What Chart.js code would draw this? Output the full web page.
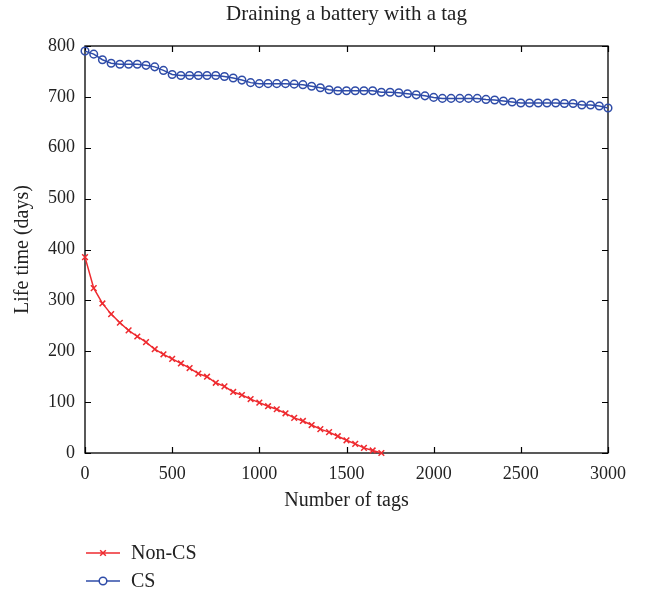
<!DOCTYPE html>
<html>
<head>
<meta charset="utf-8">
<script src="https://cdn.jsdelivr.net/npm/chart.js@4"></script>
<style>
  html, body { margin: 0; padding: 0; background: #fff; }
  #wrap { width: 649px; height: 592px; }
</style>
</head>
<body>
<div id="wrap"><canvas id="lifeChart" width="649" height="592"></canvas></div>
<script>
// number of tags (x) and life time in days (y)
const tagsNonCS = [0, 50, 100, 150, 200, 250, 300, 350, 400, 450, 500, 550, 600, 650, 700, 750, 800, 850,
    900, 950, 1000, 1050, 1100, 1150, 1200, 1250, 1300, 1350, 1400, 1450, 1500, 1550, 1600, 1650, 1700];
const lifeNonCS = [385, 324, 294, 273, 256, 241, 229, 218, 204, 194, 185, 176, 167, 156, 150, 138, 131, 120,
    114, 106, 99, 92, 86, 78, 69, 63, 55, 47, 41, 33, 25, 18, 10, 5, 0];

const tagsCS = [0, 50, 100, 150, 200, 250, 300, 350, 400, 450, 500, 550, 600, 650, 700, 750, 800, 850,
    900, 950, 1000, 1050, 1100, 1150, 1200, 1250, 1300, 1350, 1400, 1450, 1500, 1550, 1600, 1650, 1700,
    1750, 1800, 1850, 1900, 1950, 2000, 2050, 2100, 2150, 2200, 2250, 2300, 2350, 2400, 2450, 2500, 2550,
    2600, 2650, 2700, 2750, 2800, 2850, 2900, 2950, 3000];
const lifeCS = [790, 784, 773, 766, 764, 764, 764, 762, 759, 752, 744, 742, 742, 742, 742, 742, 740, 737,
    733, 728, 726, 726, 726, 726, 725, 724, 721, 718, 714, 712, 712, 712, 712, 712, 709,
    709, 708, 706, 704, 702, 699, 697, 697, 697, 697, 697, 695, 694, 692, 690, 688, 688,
    688, 688, 688, 687, 687, 684, 684, 682, 678];

const xTicks = [0, 500, 1000, 1500, 2000, 2500, 3000];
const yTicks = [0, 100, 200, 300, 400, 500, 600, 700, 800];

const serif = "'Liberation Serif', 'DejaVu Serif', serif";
const red = "#ee2a2f";
const blue = "#2f4ca8";

function toPoints(xs, ys) {
    return xs.map((x, i) => ({ x: x, y: ys[i] }));
}

// box with inward ticks, like the original plot
const boxPlugin = {
    id: "box",
    beforeDatasetsDraw(chart) {
        const ctx = chart.ctx;
        const a = chart.chartArea;
        const xs = chart.scales.x;
        const ys = chart.scales.y;
        ctx.save();
        ctx.strokeStyle = "#000";
        ctx.lineWidth = 1.2;
        ctx.beginPath();
        xTicks.forEach(v => {
            const px = Math.round(xs.getPixelForValue(v)) + 0.5;
            ctx.moveTo(px, a.bottom); ctx.lineTo(px, a.bottom - 6);
            ctx.moveTo(px, a.top); ctx.lineTo(px, a.top + 6);
        });
        yTicks.forEach(v => {
            const py = Math.round(ys.getPixelForValue(v)) + 0.5;
            ctx.moveTo(a.left, py); ctx.lineTo(a.left + 6, py);
            ctx.moveTo(a.right, py); ctx.lineTo(a.right - 6, py);
        });
        ctx.stroke();
        ctx.lineWidth = 1.3;
        ctx.strokeRect(a.left, a.top, a.right - a.left, a.bottom - a.top);
        ctx.restore();
    }
};

// legend stacked under the axis, left aligned
const legendPlugin = {
    id: "stackLegend",
    afterDraw(chart) {
        const ctx = chart.ctx;
        const x0 = 86, x1 = 120, rowY = [553, 581];
        ctx.save();
        ctx.font = "20px " + serif;
        ctx.textBaseline = "middle";
        chart.data.datasets.forEach((ds, i) => {
            const y = rowY[i];
            ctx.strokeStyle = ds.borderColor;
            ctx.lineWidth = 1.5;
            ctx.beginPath();
            ctx.moveTo(x0, y); ctx.lineTo(x1, y);
            ctx.stroke();
            ctx.fillStyle = "#fff";
            Chart.helpers.drawPoint(ctx, {
                pointStyle: ds.pointStyle, radius: ds.pointRadius, borderWidth: 1.5, rotation: 0
            }, (x0 + x1) / 2, y);
            ctx.fillStyle = "#222";
            ctx.fillText(ds.label, 131, y + 1);
        });
        ctx.restore();
    }
};

new Chart(document.getElementById("lifeChart"), {
    type: "line",
    data: {
        datasets: [
            {
                label: "Non-CS",
                data: toPoints(tagsNonCS, lifeNonCS),
                borderColor: red,
                backgroundColor: red,
                borderWidth: 1.5,
                pointStyle: "crossRot",
                pointRadius: 4,
                pointBorderWidth: 1.5,
                clip: false,
                tension: 0
            },
            {
                label: "CS",
                data: toPoints(tagsCS, lifeCS),
                borderColor: blue,
                backgroundColor: "rgba(0,0,0,0)",
                borderWidth: 1.5,
                pointStyle: "circle",
                pointRadius: 3.8,
                pointBorderWidth: 1.5,
                clip: false,
                tension: 0
            }
        ]
    },
    options: {
        responsive: false,
        animation: false,
        layout: { padding: { left: 0, right: 41, top: 0, bottom: 74 } },
        plugins: {
            legend: { display: false },
            tooltip: { enabled: false },
            title: {
                display: true,
                fullSize: false,
                text: "Draining a battery with a tag",
                color: "#222",
                font: { family: serif, size: 21, weight: "normal" },
                padding: { top: 1.5, bottom: 19.3 }
            }
        },
        scales: {
            x: {
                type: "linear",
                min: 0,
                max: 3000,
                afterBuildTicks: s => { s.ticks = xTicks.map(v => ({ value: v })); },
                afterFit: s => { s.height = 65; },
                grid: { display: false },
                border: { display: false },
                ticks: {
                    color: "#222", padding: 2, maxRotation: 0,
                    font: { family: serif, size: 18 },
                    callback: v => String(v)
                },
                title: {
                    display: true,
                    text: "Number of tags",
                    color: "#222",
                    font: { family: serif, size: 20 },
                    padding: { top: 0, bottom: 5 }
                }
            },
            y: {
                min: 0,
                max: 800,
                afterBuildTicks: s => { s.ticks = yTicks.map(v => ({ value: v })); },
                afterFit: s => { s.width = 85; },
                grid: { display: false },
                border: { display: false },
                ticks: {
                    color: "#222", padding: 2,
                    font: { family: serif, size: 18 },
                    callback: v => String(v)
                },
                title: {
                    display: true,
                    text: "Life time (days)",
                    color: "#222",
                    font: { family: serif, size: 20 },
                    padding: { top: 11, bottom: 0 }
                }
            }
        }
    },
    plugins: [boxPlugin, legendPlugin]
});
</script>
</body>
</html>
